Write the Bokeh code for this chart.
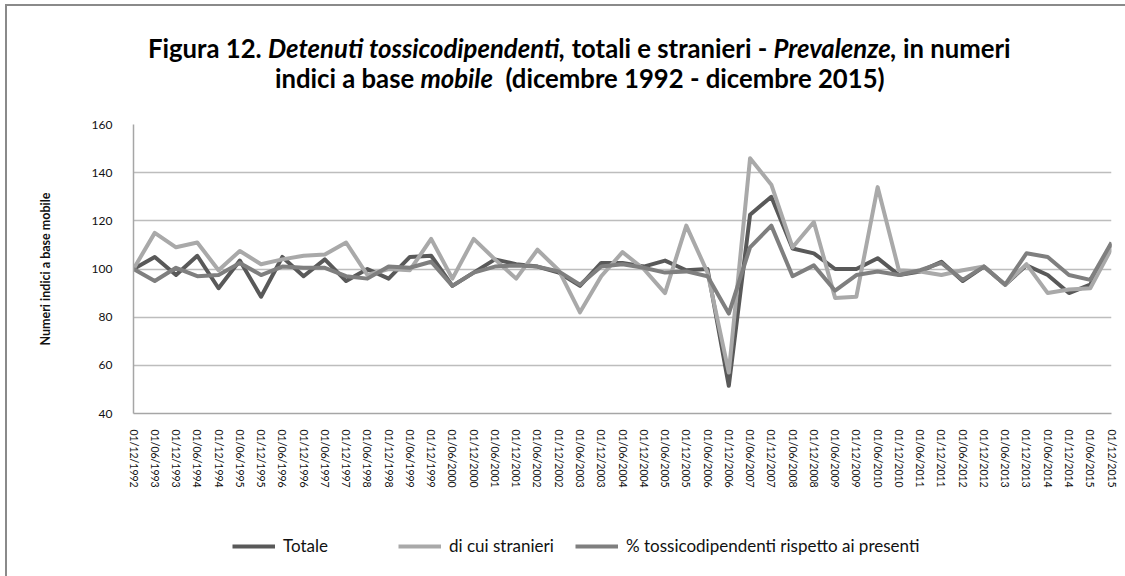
from bokeh.plotting import figure
from bokeh.models import Legend, LegendItem, Div, FixedTicker
from bokeh.layouts import column
from bokeh.embed import file_html
from bokeh.resources import INLINE

# ---------------- data ----------------
dates = [
    "01/12/1992", "01/06/1993", "01/12/1993", "01/06/1994", "01/12/1994",
    "01/06/1995", "01/12/1995", "01/06/1996", "01/12/1996", "01/06/1997",
    "01/12/1997", "01/06/1998", "01/12/1998", "01/06/1999", "01/12/1999",
    "01/06/2000", "01/12/2000", "01/06/2001", "01/12/2001", "01/06/2002",
    "01/12/2002", "01/06/2003", "01/12/2003", "01/06/2004", "01/12/2004",
    "01/06/2005", "01/12/2005", "01/06/2006", "01/12/2006", "01/06/2007",
    "01/12/2007", "01/06/2008", "01/12/2008", "01/06/2009", "01/12/2009",
    "01/06/2010", "01/12/2010", "01/06/2011", "01/12/2011", "01/06/2012",
    "01/12/2012", "01/06/2013", "01/12/2013", "01/06/2014", "01/12/2014",
    "01/06/2015", "01/12/2015",
]

totale = [100, 105, 97.5, 105.5, 92, 103.5, 88.5, 105, 97, 104,
          95, 100, 96, 105, 105.5, 93, 98.5, 104, 102, 101,
          98.5, 93, 102.5, 102.5, 101, 103.5, 99.5, 100, 51.5, 122.5,
          130, 108.5, 106.5, 100, 100, 104.5, 97.5, 99, 103, 95,
          101, 93.5, 101.5, 97.5, 90, 93.5, 110.5]

stranieri = [100, 115, 109, 111, 99.5, 107.5, 102, 104, 105.5, 106,
             111, 97.5, 100, 99.5, 112.5, 96, 112.5, 104, 96, 108,
             99.5, 82, 97, 107, 100, 90, 118, 98.5, 57, 146,
             135, 109, 119.5, 88, 88.5, 134, 99.5, 99, 97.5, 99.5,
             101, 93.5, 102, 90, 91.5, 92, 108.5]

perc = [100, 95, 100.5, 97, 97.5, 102.5, 97.5, 101, 100.5, 100.5,
        97, 96, 101, 100.5, 103, 93, 98.5, 101, 101.5, 101,
        99, 93.5, 101, 102, 100.5, 98.5, 99, 97, 81.5, 109,
        118, 97, 101.5, 91, 97.5, 99, 97.5, 99.5, 102.5, 95.5,
        101, 93.5, 106.5, 105, 97.5, 95.5, 111]

series_names = ["Totale", "di cui stranieri",
                "% tossicodipendenti rispetto ai presenti"]
series_colors = ["#595959", "#A9A9A9", "#7F7F7F"]

y_ticks = [40, 60, 80, 100, 120, 140, 160]

title_line1 = ("Figura 12. <i>Detenuti tossicodipendenti,</i> totali e "
               "stranieri - <i>Prevalenze,</i> in numeri")
title_line2 = ("indici a base <i>mobile</i>&nbsp; "
               "(dicembre 1992 - dicembre 2015)")

# ---------------- layout ----------------
FONT = "Lato"
INNER_W = 1118
DIV_H = 95
FIG_H = 394          # frame 124..413 on the page + axis labels
LEG_H = 576 - 4 - 2 - DIV_H - FIG_H

line_style = (f"font-family:{FONT};font-weight:bold;font-size:25.7px;"
              "line-height:30px;color:#000;white-space:nowrap;")
title_div = Div(
    text=(f"<div style=\"padding-top:27px;\">"
          f"<div style=\"{line_style}padding-left:141px;\">{title_line1}</div>"
          f"<div style=\"{line_style}padding-left:268px;\">{title_line2}</div>"
          f"</div>"),
    width=INNER_W, height=DIV_H, margin=0,
)

x = list(range(len(dates)))

p = figure(
    width=INNER_W, height=FIG_H,
    x_range=(0, len(dates) - 1),
    y_range=(y_ticks[0], y_ticks[-1]),
    output_backend="svg", toolbar_location=None,
    min_border_left=126, min_border_right=14,
    min_border_top=23, min_border_bottom=FIG_H - 23 - 289,
    margin=0,
)
p.outline_line_color = None
p.background_fill_color = "white"
p.border_fill_color = "white"

# grid / axes
p.xgrid.grid_line_color = None
p.ygrid.grid_line_color = "#BDBDBD"
p.ygrid.grid_line_width = 1.5

p.yaxis.ticker = FixedTicker(ticks=y_ticks)
p.yaxis.axis_line_color = "#A6A6A6"
p.yaxis.axis_line_width = 1.5
p.yaxis.major_tick_line_color = None
p.yaxis.major_tick_out = 0
p.yaxis.major_tick_in = 0
p.yaxis.minor_tick_line_color = None
p.yaxis.major_label_standoff = 21
p.yaxis.major_label_text_font = FONT
p.yaxis.major_label_text_font_size = "12px"
p.yaxis.major_label_text_color = "#111111"
p.yaxis.axis_label = "Numeri indici a base mobile"
p.yaxis.axis_label_text_font = FONT
p.yaxis.axis_label_text_font_style = "bold"
p.yaxis.axis_label_text_font_size = "12.5px"
p.yaxis.axis_label_text_color = "#111111"
p.yaxis.axis_label_standoff = 36

p.xaxis.ticker = FixedTicker(ticks=x)
p.xaxis.major_label_overrides = {i: d for i, d in zip(x, dates)}
p.xaxis.axis_line_color = "#A6A6A6"
p.xaxis.axis_line_width = 1.5
p.xaxis.major_tick_line_color = None
p.xaxis.major_tick_out = 0
p.xaxis.major_tick_in = 0
p.xaxis.minor_tick_line_color = None
p.xaxis.major_label_orientation = "vertical"
p.xaxis.major_label_standoff = 16
p.xaxis.major_label_text_font = FONT
p.xaxis.major_label_text_font_size = "10.5px"
p.xaxis.major_label_text_color = "#111111"

# lines
all_series = [totale, stranieri, perc]
for ys, c in zip(all_series, series_colors):
    p.line(x=x, y=ys, line_color=c, line_width=4, line_join="round")

# ---------------- legend strip ----------------
# same series drawn in a strip whose y range keeps them out of view;
# only their legend entries are visible.
lf = figure(
    width=INNER_W, height=LEG_H, x_range=(0, 1), y_range=(0, 1),
    output_backend="svg", toolbar_location=None,
    min_border=0, margin=0,
)
lf.axis.visible = False
lf.grid.visible = False
lf.outline_line_color = None
lf.background_fill_color = "white"
lf.border_fill_color = "white"

leg_x = [99, 265, 442]   # px from the plot's left edge
for ys, c, name, lx in zip(all_series, series_colors, series_names, leg_x):
    r = lf.line(x=x, y=ys, line_color=c, line_width=4)
    lg = Legend(
        items=[LegendItem(label=name, renderers=[r])],
        location=(lx, 20), orientation="horizontal",
        background_fill_alpha=0, border_line_color=None,
        padding=0, margin=0, spacing=0,
        glyph_width=43, glyph_height=16, label_height=16,
        label_standoff=8,
        label_text_font=FONT, label_text_font_size="17px",
        label_text_color="#111111",
    )
    lf.add_layout(lg, "center")

layout = column(title_div, p, lf, margin=(4, 0, 0, 5), spacing=0,
                styles={"border-top": "2px solid #8a8a8a",
                        "border-left": "2px solid #8a8a8a",
                        "background-color": "white"})

open("out.html", "w").write(file_html(layout, INLINE))
